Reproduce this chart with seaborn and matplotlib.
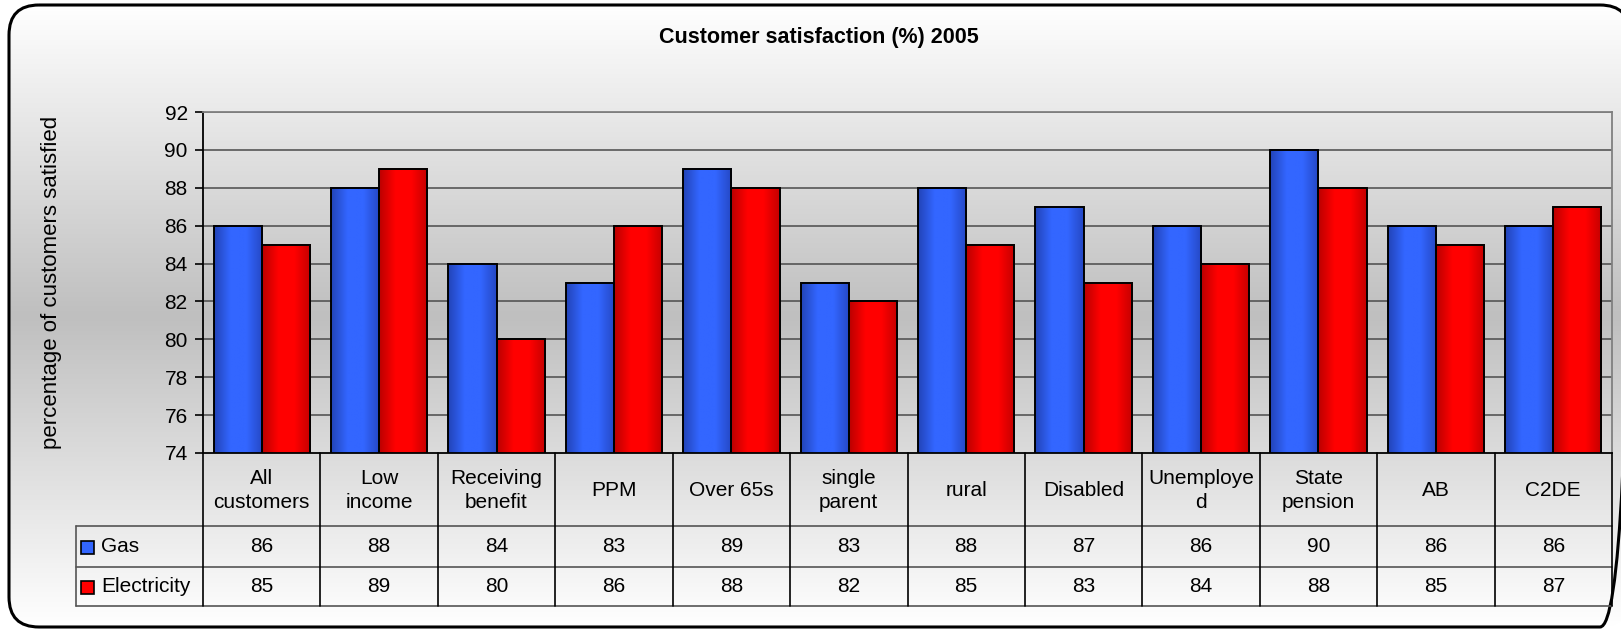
import numpy as np
import pandas as pd
import matplotlib
matplotlib.use("Agg")
import matplotlib.pyplot as plt
import matplotlib.transforms as mtransforms
from matplotlib.patches import FancyBboxPatch, Rectangle
from matplotlib.colors import LinearSegmentedColormap
import seaborn as sns

# ---- data ----
categories = ["All\ncustomers", "Low\nincome", "Receiving\nbenefit", "PPM", "Over 65s",
              "single\nparent", "rural", "Disabled", "Unemploye\nd", "State\npension",
              "AB", "C2DE"]
gas = [86, 88, 84, 83, 89, 83, 88, 87, 86, 90, 86, 86]
electricity = [85, 89, 80, 86, 88, 82, 85, 83, 84, 88, 85, 87]
series_names = ["Gas", "Electricity"]
y_ticks = [74, 76, 78, 80, 82, 84, 86, 88, 90, 92]
title = "Customer satisfaction (%) 2005"
y_label = "percentage of customers satisfied"

df = pd.DataFrame({
    "category": categories * 2,
    "series": [series_names[0]] * len(categories) + [series_names[1]] * len(categories),
    "value": gas + electricity,
})

sns.set_theme(style="white")
plt.rcParams["font.family"] = ["Liberation Sans", "DejaVu Sans"]
for key in ("text.color", "axes.labelcolor", "xtick.color", "ytick.color"):
    plt.rcParams[key] = "black"

W, H = 1621, 629
fig = plt.figure(figsize=(W / 100, H / 100), dpi=100)

# ---- background canvas in pixel units (y downwards) ----
bg = fig.add_axes([0, 0, 1, 1], zorder=0)
bg.set_xlim(0, W)
bg.set_ylim(H, 0)
bg.axis("off")

frame = FancyBboxPatch((9, 5), 1621, 622, boxstyle="round,pad=0,rounding_size=30",
                       facecolor="none", edgecolor="black", linewidth=2.2, zorder=3)
bg.add_patch(frame)
rows = np.linspace(0, 1, 400)
shade = 1 - np.abs(rows - 0.5) * 2          # 0 at top/bottom, 1 in the middle
grey = (255 - shade * 64) / 255.0
grad = np.repeat(grey[:, None], 2, axis=1)
img = bg.imshow(np.dstack([grad, grad, grad]), extent=(9, 1630, 627, 5), origin="upper",
                aspect="auto", interpolation="bilinear", zorder=1)
img.set_clip_path(frame)

# ---- plot area ----
x0, x1, y_top, y_base = 203, 1612, 112, 453
ax = fig.add_axes([x0 / W, 1 - y_base / H, (x1 - x0) / W, (y_base - y_top) / H], zorder=2)
ax.patch.set_alpha(0)

palette = {"Gas": "#3366ff", "Electricity": "#ff0000"}
sns.barplot(data=df, x="category", y="value", hue="series", hue_order=series_names,
            order=categories, palette=palette, width=0.82, edgecolor="black",
            linewidth=1.4, legend=False, ax=ax, zorder=3)

cmaps = [
    LinearSegmentedColormap.from_list("gas", ["#2244b8", "#3366ff", "#3366ff", "#2548c4"]),
    LinearSegmentedColormap.from_list("elec", ["#bb0000", "#ff0000", "#ff0000", "#c40000"]),
]
ramp = np.linspace(0, 1, 64)[None, :]
for container, cmap in zip(ax.containers, cmaps):
    for bar in container:
        bx, bw, bh = bar.get_x(), bar.get_width(), bar.get_height()
        ax.imshow(ramp, cmap=cmap, extent=(bx, bx + bw, y_ticks[0], bh), aspect="auto",
                  interpolation="bilinear", zorder=2.5)
        bar.set_facecolor("none")
ax.set_ylim(y_ticks[0], y_ticks[-1])
ax.set_xlim(-0.5, len(categories) - 0.5)

ax.set_yticks(y_ticks)
ax.set_yticklabels([str(t) for t in y_ticks], fontsize=15)
ax.tick_params(axis="y", direction="out", length=6, width=1.2, color="black", pad=5,
               left=True)
ax.set_xticks([])
ax.set_xlabel("")
ax.set_ylabel(y_label, fontsize=16)
ax.yaxis.set_label_coords((62 - x0) / (x1 - x0), 0.5)
ax.grid(False)
for t in y_ticks[1:]:
    ax.axhline(t, color="#4a4a4a", linewidth=1.1, zorder=1)
for side in ["left", "bottom"]:
    ax.spines[side].set_color("black")
    ax.spines[side].set_linewidth(1.3)
for side in ["top", "right"]:
    ax.spines[side].set_color("#808080")
    ax.spines[side].set_linewidth(1.3)
for side in ax.spines:
    ax.spines[side].set_visible(True)

# ---- title ----
bg.text(819, 37, title, ha="center", va="center", fontsize=15.5, fontweight="bold", zorder=4)

# ---- data table below the axis ----
tr = mtransforms.blended_transform_factory(ax.transData, bg.transData)
r_head, r_gas, r_elec, r_end = y_base, 526, 567, 606
legend_left = 76
n = len(categories)
for i in range(n + 1):
    ax.plot([i - 0.5, i - 0.5], [r_head, r_end], transform=tr, color="black",
            linewidth=1.2, clip_on=False, zorder=4)
for yy in (r_gas, r_elec, r_end):
    bg.plot([legend_left, x1], [yy, yy], color="#555555", linewidth=1.2, zorder=4)
bg.plot([legend_left, legend_left], [r_gas, r_end], color="#555555", linewidth=1.2, zorder=4)

fs = 15
for i, cat in enumerate(categories):
    ax.text(i, (r_head + r_gas) / 2 + 1, cat, transform=tr, ha="center", va="center",
            fontsize=fs, linespacing=1.3, clip_on=False, zorder=4)
    ax.text(i, (r_gas + r_elec) / 2, str(gas[i]), transform=tr, ha="center", va="center",
            fontsize=fs, clip_on=False, zorder=4)
    ax.text(i, (r_elec + r_end) / 2, str(electricity[i]), transform=tr, ha="center",
            va="center", fontsize=fs, clip_on=False, zorder=4)

for name, (ya, yb) in zip(series_names, [(r_gas, r_elec), (r_elec, r_end)]):
    yc = (ya + yb) / 2
    bg.add_patch(Rectangle((81, yc - 6), 13, 13, facecolor=palette[name],
                           edgecolor="black", linewidth=1.2, zorder=4))
    bg.text(101, yc, name, ha="left", va="center", fontsize=fs, zorder=4)

fig.savefig("out.png", dpi=100)
